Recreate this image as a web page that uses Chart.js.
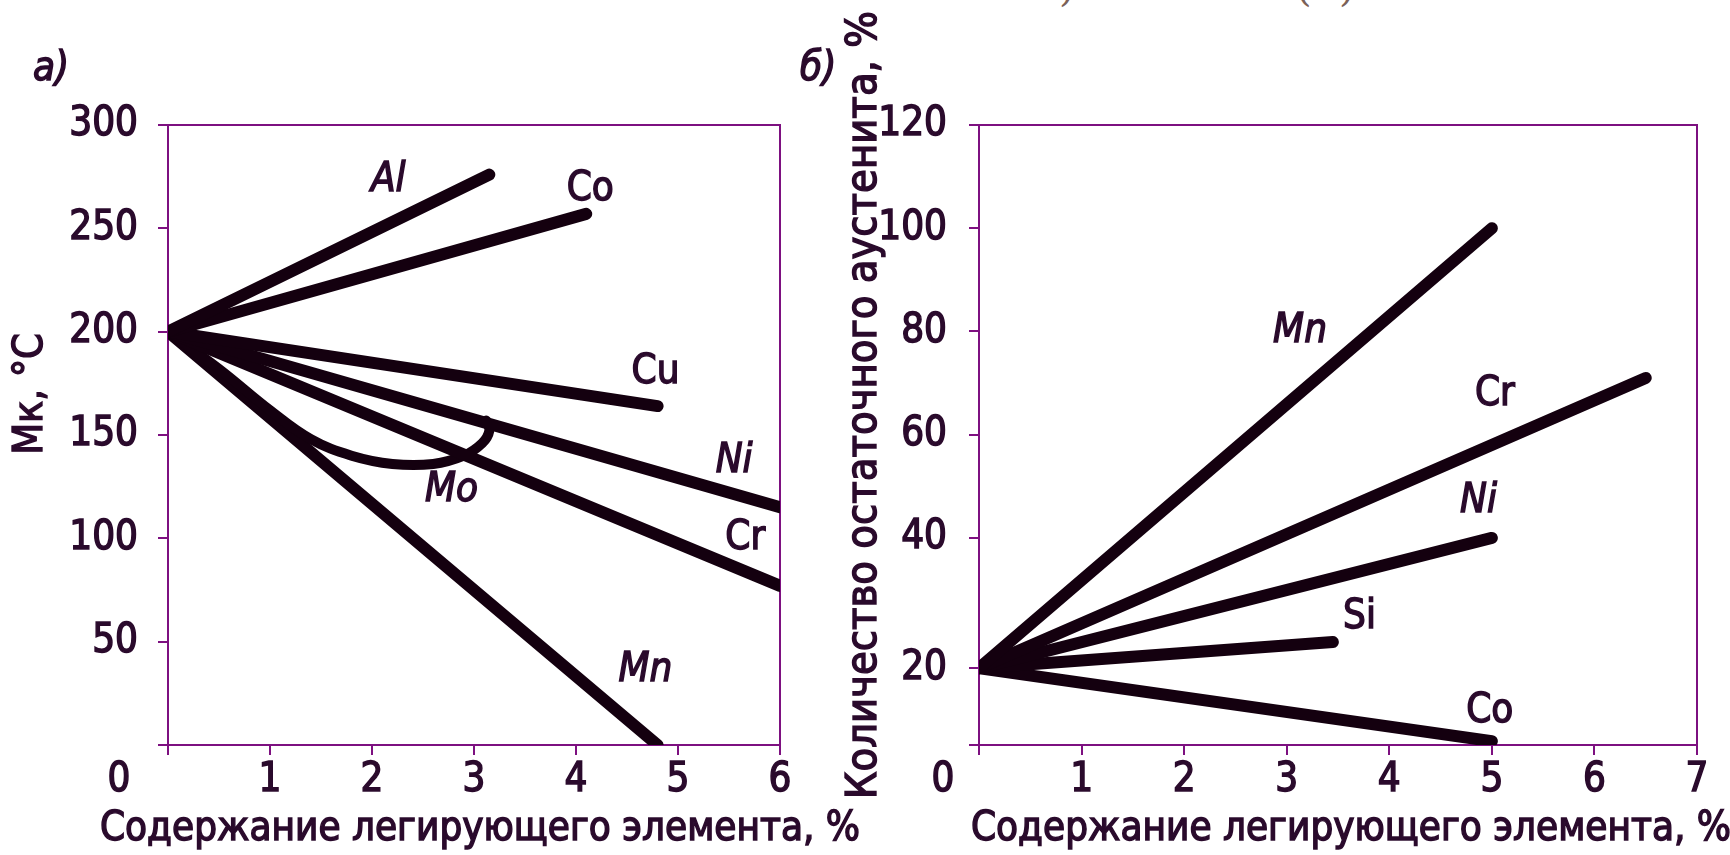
<!DOCTYPE html>
<html lang="ru">
<head>
<meta charset="utf-8">
<title>Влияние легирующих элементов на Мк и остаточный аустенит</title>
<script src="https://cdn.jsdelivr.net/npm/chart.js@4.4.1/dist/chart.umd.min.js"></script>
<style>
  html, body { margin: 0; background: #fff; }
  #wrap { position: relative; width: 1730px; height: 855px; overflow: hidden; }
  canvas { position: absolute; top: 0; }
  #chartA { left: 0; }
  #chartB { left: 780px; }
  .cut { position: absolute; top: -37px; font: 40px "DejaVu Serif"; line-height: 48px; color: #7b6157; }
</style>
</head>
<body>
<div id="wrap">
  <div class="cut" style="left:1059px">)</div>
  <div class="cut" style="left:1296px">(</div>
  <div class="cut" style="left:1339px">)</div>
  <canvas id="chartA" width="880" height="855"></canvas>
  <canvas id="chartB" width="950" height="855"></canvas>
</div>
<script>
// а) Мк, °С в зависимости от содержания элемента, %
const mkAl = [[0, 200], [3.15, 276]];
const mkCo = [[0, 200], [4.1, 257]];
const mkCu = [[0, 200], [4.8, 164]];
const mkNi = [[0, 200], [6, 115]];
const mkCr = [[0, 200], [6, 77]];
const mkMo = [[0, 200], [0.5, 182], [1.0, 162], [1.4, 148], [1.8, 140], [2.2, 136], [2.6, 136], [2.9, 140], [3.08, 146], [3.15, 152], [3.12, 157]];
const mkMn = [[0, 200], [4.8, 0]];

// б) количество остаточного аустенита, %
const raMn = [[0, 20], [5, 100]];
const raCr = [[0, 20], [6.5, 71]];
const raNi = [[0, 20], [5, 40]];
const raSi = [[0, 20], [3.45, 24]];
const raCo = [[0, 20], [5, 1]];

const xTicksA = [0, 1, 2, 3, 4, 5, 6];
const yTicksA = [0, 50, 100, 150, 200, 250, 300];
const xTicksB = [0, 1, 2, 3, 4, 5, 6, 7];
const yTicksB = [0, 20, 40, 60, 80, 100, 120];

const xTitle = 'Содержание легирующего элемента, %';

const ink = '#2a0a2c';
const axisInk = '#7d1080';
const lineInk = '#14000f';
const face = '"DejaVu Sans Condensed", "DejaVu Sans", sans-serif';

// the right-hand axis is drawn unevenly in the original: 0-20 and 20-40 are squeezed/stretched
const bendAt = [0, 20, 40, 120];
const bendTo = [0, 0.124, 0.334, 1];
function interp(v, from, to) {
  for (let i = 1; i < from.length; i++) {
    if (v <= from[i] || i === from.length - 1) {
      const t = (v - from[i - 1]) / (from[i] - from[i - 1]);
      return to[i - 1] + t * (to[i] - to[i - 1]);
    }
  }
}
const LinearScale = Chart.LinearScale || Chart.registry.getScale('linear');
class BentScale extends LinearScale {
  getPixelForValue(v) {
    return this.bottom - interp(v, bendAt, bendTo) * (this.bottom - this.top);
  }
  getValueForPixel(p) {
    return interp((this.bottom - p) / (this.bottom - this.top), bendTo, bendAt);
  }
}
BentScale.id = 'bent';
BentScale.defaults = LinearScale.defaults;
Chart.register(BentScale);

function put(ctx, text, x, y, opt = {}) {
  ctx.save();
  ctx.translate(x, y);
  if (opt.rotate) ctx.rotate(opt.rotate);
  ctx.font = (opt.italic ? 'italic ' : '') + (opt.size || 40) + 'px ' + face;
  ctx.textAlign = opt.align || 'center';
  ctx.textBaseline = 'middle';
  ctx.fillStyle = ink;
  ctx.strokeStyle = ink;
  ctx.lineWidth = 1.4;
  ctx.fillText(text, 0, 0);
  ctx.strokeText(text, 0, 0);
  ctx.restore();
}

const frame = {
  id: 'frame',
  beforeDatasetsDraw(chart) {
    const { ctx, chartArea: a } = chart;
    ctx.save();
    ctx.strokeStyle = axisInk;
    ctx.lineWidth = 2;
    ctx.strokeRect(a.left, a.top, a.right - a.left, a.bottom - a.top);
    ctx.restore();
  }
};

const captions = {
  id: 'captions',
  afterDraw(chart, args, o) {
    const { ctx, scales } = chart;
    put(ctx, o.panel, o.panelAt[0], o.panelAt[1], { align: 'left', italic: true });
    put(ctx, '0', o.originAt[0], o.originAt[1]);
    put(ctx, scales.x.options.title.text, o.xTitleAt[0], o.xTitleAt[1]);
    put(ctx, scales.y.options.title.text, o.yTitleAt[0], o.yTitleAt[1], { rotate: -Math.PI / 2, size: o.yTitleSize });
    o.labels.forEach(l => {
      put(ctx, l.text, scales.x.getPixelForValue(l.x), scales.y.getPixelForValue(l.y), { italic: l.italic });
    });
  }
};

function line(label, pts, extra) {
  return Object.assign({
    label,
    data: pts.map(([x, y]) => ({ x, y })),
    borderColor: lineInk,
    borderWidth: 12,
    pointRadius: 0,
    borderCapStyle: 'round',
    borderJoinStyle: 'round',
    tension: 0
  }, extra);
}

function axis(type, ticks, title, fit, pad) {
  return {
    type,
    min: ticks[0],
    max: ticks[ticks.length - 1],
    afterBuildTicks: s => { s.ticks = ticks.map(v => ({ value: v })); },
    afterFit: fit,
    grid: { drawOnChartArea: false, color: axisInk, lineWidth: 2, tickLength: 10 },
    border: { display: false },
    ticks: {
      color: ink,
      textStrokeColor: ink,
      textStrokeWidth: 1.4,
      font: { family: face, size: 40 },
      padding: pad,
      maxRotation: 0,
      autoSkip: false,
      callback: v => (v === ticks[0] ? '' : v)
    },
    title: { display: false, text: title }
  };
}

const base = {
  responsive: false,
  devicePixelRatio: 1,
  animation: false,
  events: []
};

new Chart(document.getElementById('chartA'), {
  type: 'line',
  data: {
    datasets: [
      line('Al', mkAl), line('Co', mkCo), line('Cu', mkCu), line('Ni', mkNi),
      line('Cr', mkCr), line('Mo', mkMo, { tension: 0.4, borderWidth: 10 }), line('Mn', mkMn)
    ]
  },
  options: Object.assign({}, base, {
    layout: { padding: { left: 0, top: 125, right: 100, bottom: 0 } },
    scales: {
      x: axis('linear', xTicksA, xTitle, s => { s.height = 110; }, 2),
      y: axis('linear', yTicksA, 'Мк, °С', s => { s.width = 168; }, 20)
    },
    plugins: {
      legend: { display: false },
      tooltip: { enabled: false },
      captions: {
        panel: 'а)', panelAt: [33, 70],
        originAt: [119, 781],
        xTitleAt: [480, 830],
        yTitleAt: [31, 394],
        yTitleSize: 41,
        labels: [
          { text: 'Al', x: 2.16, y: 273, italic: true },
          { text: 'Co', x: 4.14, y: 268.5 },
          { text: 'Cu', x: 4.78, y: 180 },
          { text: 'Ni', x: 5.55, y: 137, italic: true },
          { text: 'Cr', x: 5.66, y: 100 },
          { text: 'Mo', x: 2.78, y: 123, italic: true },
          { text: 'Mn', x: 4.68, y: 36, italic: true }
        ]
      }
    }
  }),
  plugins: [frame, captions]
});

new Chart(document.getElementById('chartB'), {
  type: 'line',
  data: {
    datasets: [
      line('Mn', raMn), line('Cr', raCr), line('Ni', raNi), line('Si', raSi), line('Co', raCo)
    ]
  },
  options: Object.assign({}, base, {
    layout: { padding: { left: 0, top: 125, right: 33, bottom: 0 } },
    scales: {
      x: axis('linear', xTicksB, xTitle, s => { s.height = 110; }, 2),
      y: axis('bent', yTicksB, 'Количество остаточного аустенита, %', s => { s.width = 199; }, 22)
    },
    plugins: {
      legend: { display: false },
      tooltip: { enabled: false },
      captions: {
        panel: 'б)', panelAt: [20, 70],
        originAt: [163, 781],
        xTitleAt: [571, 830],
        yTitleAt: [85, 405],
        yTitleSize: 43,
        labels: [
          { text: 'Mn', x: 3.13, y: 80, italic: true },
          { text: 'Cr', x: 5.03, y: 67.7 },
          { text: 'Ni', x: 4.87, y: 47, italic: true },
          { text: 'Si', x: 3.71, y: 27.7 },
          { text: 'Co', x: 4.98, y: 8.6 }
        ]
      }
    }
  }),
  plugins: [frame, captions]
});
</script>
</body>
</html>
